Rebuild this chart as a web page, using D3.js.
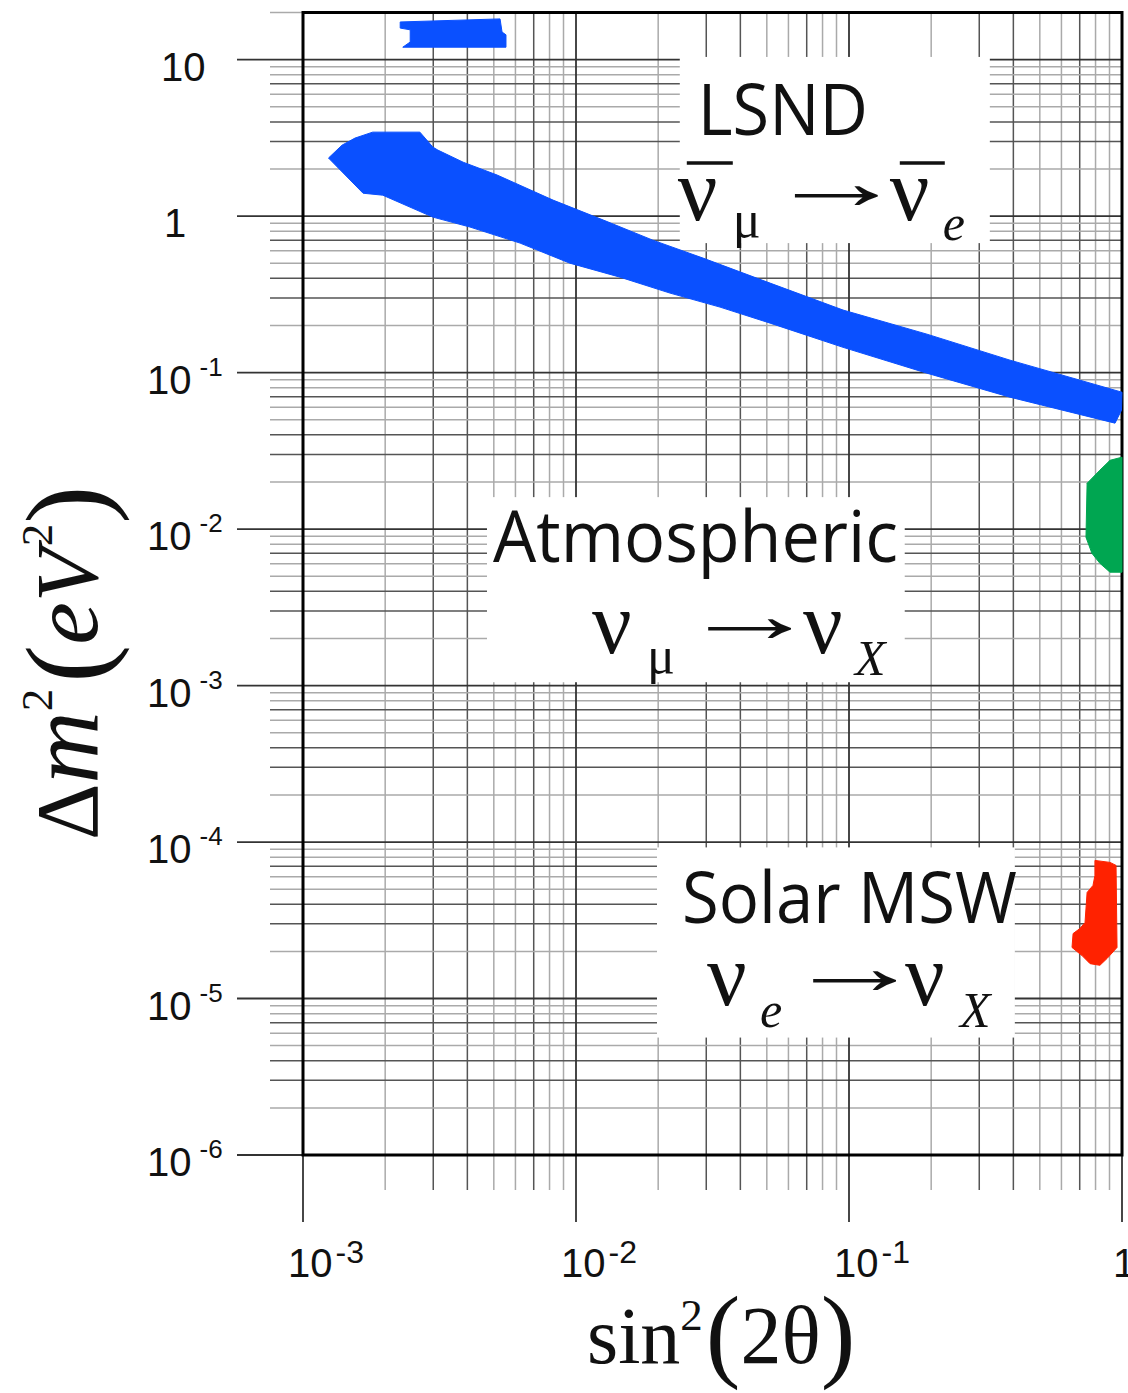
<!DOCTYPE html>
<html>
<head>
<meta charset="utf-8">
<script src="https://cdn.jsdelivr.net/npm/d3@7"></script>
<style>
  body { margin: 0; background: #fff; }
  svg { display: block; }
</style>
</head>
<body>
<svg id="chart" width="1128" height="1393"></svg>
<script>
// ---------------- data ----------------
const xTickValues = [1e-3, 1e-2, 1e-1, 1];
const xTickBase = ["10", "10", "10", "1"];
const xTickExp = ["-3", "-2", "-1", ""];

const yTickValues = [10, 1, 1e-1, 1e-2, 1e-3, 1e-4, 1e-5, 1e-6];
const yTickBase = ["10", "1", "10", "10", "10", "10", "10", "10"];
const yTickExp = ["", "", "-1", "-2", "-3", "-4", "-5", "-6"];

// [sin^2(2θ), Δm^2]
const lsndBlob = [
    [0.00227, 17.4], [0.00527, 18.2], [0.00536, 15.0], [0.00554, 14.4],
    [0.00554, 12.0], [0.00232, 12.0], [0.00247, 12.96], [0.00247, 15.5],
    [0.00227, 15.9]
];

const lsndBand = [
    [0.00124, 2.35], [0.00139, 2.84], [0.00155, 3.15], [0.00180, 3.44],
    [0.00268, 3.44], [0.00299, 2.76], [0.00312, 2.64], [0.00386, 2.21],
    [0.00514, 1.83], [0.00824, 1.265], [0.0126, 0.943], [0.0191, 0.702],
    [0.0292, 0.539], [0.0514, 0.373], [0.0951, 0.251], [0.193, 0.176],
    [0.389, 0.120], [1.0, 0.0749], [0.996, 0.0575], [0.943, 0.0475],
    [0.389, 0.0696], [0.193, 0.0991], [0.0951, 0.145], [0.0514, 0.207],
    [0.0337, 0.262], [0.0221, 0.322], [0.0145, 0.407], [0.0095, 0.50],
    [0.00624, 0.672], [0.00409, 0.851], [0.00299, 0.985], [0.00196, 1.36],
    [0.00166, 1.40]
];

const atmosphericRegion = [
    [1.0, 0.0288], [0.904, 0.0275], [0.830, 0.0238], [0.745, 0.0196],
    [0.738, 0.00886], [0.776, 0.0070], [0.830, 0.00604], [0.904, 0.0053],
    [1.0, 0.0053]
];

const solarRegion = [
    [0.796, 7.63e-5], [0.904, 7.41e-5], [0.951, 7.09e-5], [0.959, 2.12e-5],
    [0.881, 1.80e-5], [0.830, 1.63e-5], [0.764, 1.67e-5], [0.714, 1.88e-5],
    [0.656, 2.12e-5], [0.662, 2.60e-5], [0.701, 2.80e-5], [0.732, 3.06e-5],
    [0.745, 4.76e-5], [0.783, 5.28e-5], [0.796, 6.12e-5]
];

// ---------------- layout ----------------
const serif = "'Liberation Serif', 'Times New Roman', serif";
const sans = "'Liberation Sans', Arial, sans-serif";
const labelFont = "'Open Sans', 'Noto Sans', sans-serif";

const svg = d3.select("#chart");

const x = d3.scaleLog().domain([1e-3, 1]).range([303, 1122]);
const y = d3.scaleLog().domain([1e-6, 20]).range([1155, 12.5]);

const plotLeft = x.range()[0], plotRight = x.range()[1];
const plotTop = y.range()[1], plotBottom = y.range()[0];

//------------------- grid + ticks -------------------

function minorValues(scale) {
    const [a, b] = scale.domain();
    const out = [];
    for (let e = Math.floor(Math.log10(a)); e <= Math.ceil(Math.log10(b)); e++) {
        for (let m = 2; m <= 9; m++) {
            const v = m * Math.pow(10, e);
            if (v >= a * 0.999 && v <= b * 1.001) out.push({v: v, m: m});
        }
    }
    return out;
}

function minorColor(m) {
    return [3, 4, 7].includes(m) ? "#555" : "#aaa";
}

const grid = svg.append("g").attr("class", "grid");

grid.selectAll("line.vminor")
    .data(minorValues(x))
    .join("line")
    .attr("x1", d => x(d.v)).attr("x2", d => x(d.v))
    .attr("y1", plotTop).attr("y2", 1190)
    .attr("stroke", d => minorColor(d.m))
    .attr("stroke-width", 1.5);

grid.selectAll("line.hminor")
    .data(minorValues(y))
    .join("line")
    .attr("x1", 270).attr("x2", plotRight)
    .attr("y1", d => y(d.v)).attr("y2", d => y(d.v))
    .attr("stroke", d => minorColor(d.m))
    .attr("stroke-width", 1.5);

grid.selectAll("line.vmajor")
    .data(xTickValues)
    .join("line")
    .attr("x1", d => x(d)).attr("x2", d => x(d))
    .attr("y1", plotTop).attr("y2", 1222)
    .attr("stroke", "#333")
    .attr("stroke-width", 1.8);

grid.selectAll("line.hmajor")
    .data(yTickValues)
    .join("line")
    .attr("x1", 237).attr("x2", plotRight)
    .attr("y1", d => y(d)).attr("y2", d => y(d))
    .attr("stroke", "#333")
    .attr("stroke-width", 1.8);

//------------------- white label boxes -------------------

const boxes = [
    {x0: 0.0240, x1: 0.328, y0: 10.4, y1: 0.672},
    {x0: 0.00472, x1: 0.160, y0: 0.0160, y1: 0.00105},
    {x0: 0.0198, x1: 0.405, y0: 9.24e-5, y1: 5.63e-6}
];

svg.append("g").selectAll("rect")
    .data(boxes)
    .join("rect")
    .attr("x", d => x(d.x0))
    .attr("y", d => y(d.y0))
    .attr("width", d => x(d.x1) - x(d.x0))
    .attr("height", d => y(d.y1) - y(d.y0))
    .attr("fill", "#fff");

// plot frame
svg.append("rect")
    .attr("x", plotLeft).attr("y", plotTop)
    .attr("width", plotRight - plotLeft).attr("height", plotBottom - plotTop)
    .attr("fill", "none")
    .attr("stroke", "#000")
    .attr("stroke-width", 3);

//------------------- regions -------------------

const area = d3.line()
    .x(d => x(d[0]))
    .y(d => y(d[1]));

const regions = [
    {pts: lsndBlob, color: "#0a50ff"},
    {pts: lsndBand, color: "#0a50ff"},
    {pts: atmosphericRegion, color: "#00a651"},
    {pts: solarRegion, color: "#ff2200"}
];

svg.append("g").selectAll("path")
    .data(regions)
    .join("path")
    .attr("d", d => area(d.pts) + "Z")
    .attr("fill", d => d.color)
    .attr("stroke", d => d.color)
    .attr("stroke-width", 1)
    .attr("stroke-linejoin", "round");

//------------------- tick labels -------------------

const yLab = svg.append("g").attr("font-family", sans).attr("fill", "#111");
yTickValues.forEach((v, i) => {
    let t = yLab.append("text")
        .attr("y", y(v) + 21)
        .attr("font-size", 40);
    if (yTickExp[i] === "") {
        t.attr("x", yTickBase[i] === "10" ? 161 : 164).text(yTickBase[i]);
    } else {
        t.attr("x", 147);
        t.append("tspan").text(yTickBase[i]);
        t.append("tspan").attr("dx", 8).attr("dy", -18)
            .attr("font-size", 26).text(yTickExp[i]);
    }
});

const xLab = svg.append("g").attr("font-family", sans).attr("fill", "#111");
xTickValues.forEach((v, i) => {
    let t = xLab.append("text")
        .attr("y", 1277)
        .attr("font-size", 40);
    if (xTickExp[i] === "") {
        t.attr("x", x(v) - 9).text(xTickBase[i]);
    } else {
        t.attr("x", x(v) - 15);
        t.append("tspan").text(xTickBase[i]);
        t.append("tspan").attr("dx", 3).attr("dy", -14)
            .attr("font-size", 32).text(xTickExp[i]);
    }
});

//------------------- axis titles -------------------

const xt = svg.append("text")
    .attr("x", 587).attr("y", 1363)
    .attr("font-family", serif).attr("fill", "#111");
xt.append("tspan").attr("font-size", 80).text("sin");
xt.append("tspan").attr("font-size", 45).attr("dy", -33).text("2");
xt.append("tspan").attr("font-size", 104).attr("dy", 38).attr("dx", 3).text("(");
xt.append("tspan").attr("font-size", 82).attr("dy", -5).text("2θ");
xt.append("tspan").attr("font-size", 104).attr("dy", 5).text(")");

const yt = svg.append("text")
    .attr("transform", "translate(97,840) rotate(-90)")
    .attr("font-family", serif).attr("fill", "#111");
yt.append("tspan").attr("font-size", 88).text("Δ");
yt.append("tspan").attr("font-size", 100).attr("font-style", "italic").text("m");
yt.append("tspan").attr("font-size", 45).attr("dy", -45).text("2");
yt.append("tspan").attr("font-size", 114).attr("dy", 53).attr("dx", 6).text("(");
yt.append("tspan").attr("font-size", 96).attr("font-style", "italic").attr("dy", -8).text("e");
yt.append("tspan").attr("font-size", 88).attr("font-style", "italic").text("V");
yt.append("tspan").attr("font-size", 45).attr("dy", -45).attr("dx", 2).text("2");
yt.append("tspan").attr("font-size", 114).attr("dy", 53).text(")");

//------------------- region labels -------------------

function drawLabel(box, title, tx, ty, tw, parts, bars) {
    const g = svg.append("g")
        .attr("transform", "translate(" + x(box.x0) + "," + y(box.y0) + ")")
        .attr("fill", "#111");
    g.append("text")
        .attr("x", tx).attr("y", ty)
        .attr("font-family", labelFont)
        .attr("font-size", 71)
        .attr("textLength", tw)
        .attr("lengthAdjust", "spacingAndGlyphs")
        .text(title);
    parts.forEach(p => {
        const t = g.append("text")
            .attr("font-family", serif)
            .attr("font-size", p[3])
            .attr("font-style", p[4] ? "italic" : "normal")
            .text(p[2]);
        if (p[2] === "→") {
            // long thin arrow: stretch the glyph sideways
            t.attr("x", 0).attr("y", 0)
             .attr("transform", "translate(" + p[0] + "," + (p[1] - 11) + ") scale(1.75,1)");
        } else {
            t.attr("x", p[0]).attr("y", p[1]);
        }
    });
    (bars || []).forEach(b => {
        g.append("line")
            .attr("x1", b[0]).attr("x2", b[1])
            .attr("y1", b[2]).attr("y2", b[2])
            .attr("stroke", "#111").attr("stroke-width", 3.5);
    });
}

drawLabel(boxes[0], "LSND", 18, 78, 170, [
    [-2, 163, "ν", 88, false],
    [53, 180, "μ", 52, false],
    [87, 163, "→", 80, false],
    [210, 163, "ν", 88, false],
    [263, 183, "e", 50, true]
], [[7, 53, 106], [220, 265, 106]]);

drawLabel(boxes[1], "Atmospheric", 6, 65, 405, [
    [105, 156, "ν", 88, false],
    [160, 176, "μ", 52, false],
    [193, 156, "→", 80, false],
    [316, 156, "ν", 88, false],
    [368, 178, "X", 50, true]
]);

drawLabel(boxes[2], "Solar MSW", 25, 76, 335, [
    [50, 158, "ν", 88, false],
    [103, 180, "e", 50, true],
    [128, 158, "→", 80, false],
    [248, 158, "ν", 88, false],
    [303, 180, "X", 50, true]
]);
</script>
</body>
</html>
